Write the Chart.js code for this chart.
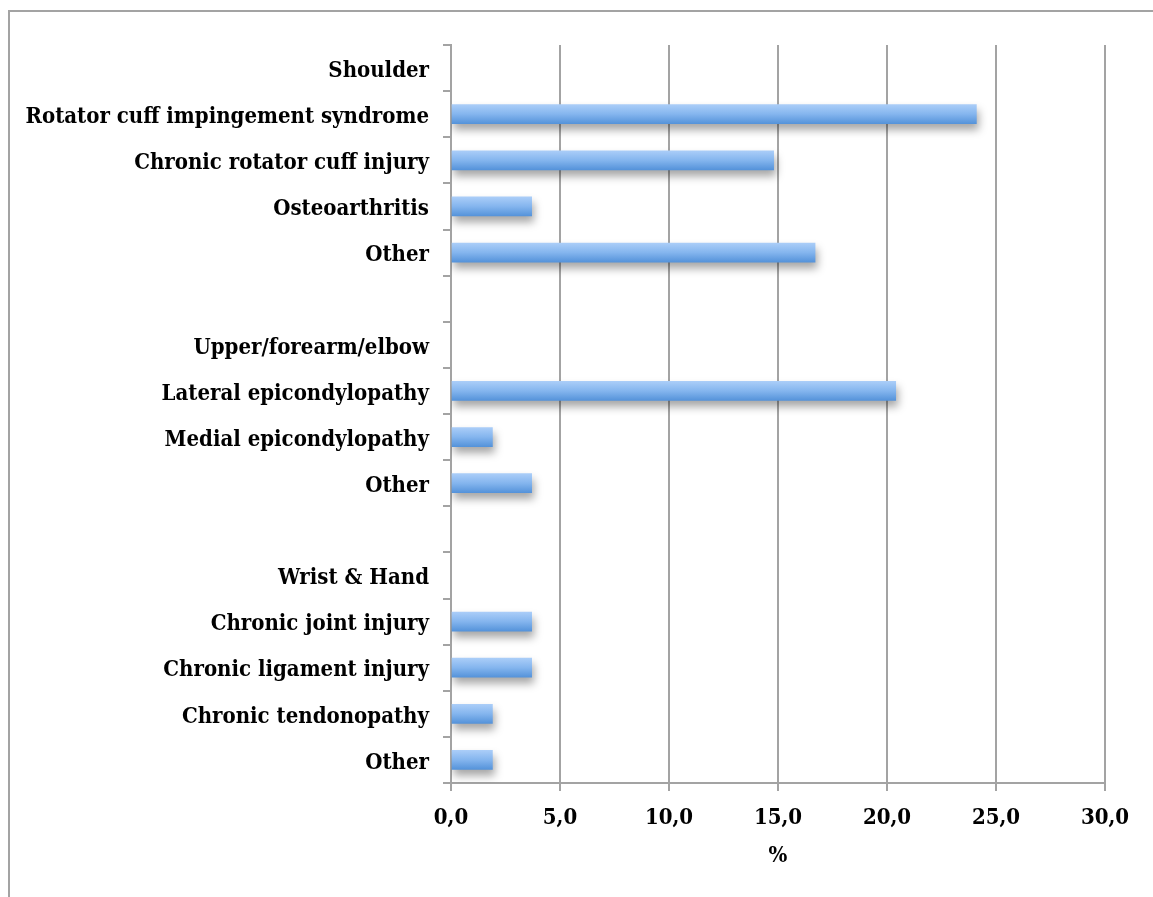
<!DOCTYPE html>
<html>
<head>
<meta charset="utf-8">
<script src="https://cdn.jsdelivr.net/npm/chart.js@4.4.1/dist/chart.umd.min.js"></script>
<style>
  html, body { margin: 0; padding: 0; background: #ffffff; }
  #wrap { position: relative; width: 1153px; height: 897px; overflow: hidden; }
  #frame {
    position: absolute; left: 8px; top: 10px; width: 1200px; height: 1000px;
    border-left: 2px solid #a3a3a3; border-top: 2px solid #a3a3a3;
  }
  canvas { position: absolute; left: 0; top: 0; }
</style>
</head>
<body>
<div id="wrap">
  <div id="frame"></div>
  <canvas id="chart" width="1153" height="897"></canvas>
</div>
<script>
// Injury categories, top to bottom (group headings and spacer rows have no bar)
const categories = [
  'Shoulder',
  'Rotator cuff impingement syndrome',
  'Chronic rotator cuff injury',
  'Osteoarthritis',
  'Other',
  '',
  'Upper/forearm/elbow',
  'Lateral epicondylopathy',
  'Medial epicondylopathy',
  'Other',
  '',
  'Wrist & Hand',
  'Chronic joint injury',
  'Chronic ligament injury',
  'Chronic tendonopathy',
  'Other'
];

// Share of injuries, %
const percentages = [
  null, 24.1, 14.8, 3.7, 16.7,
  null,
  null, 20.4, 1.9, 3.7,
  null,
  null, 3.7, 3.7, 1.9, 1.9
];

// Horizontal axis ticks
const xTicks = [0, 5, 10, 15, 20, 25, 30];

const LABEL_FONT = { family: '"DejaVu Serif Condensed", "DejaVu Serif", serif', weight: 'bold', size: 22 };
const AXIS_GREY = '#a3a3a3';
const BAR_THICKNESS = 19;

// Vertical blue gradient for each bar, built from the bar's own pixel extent
function barFill(context) {
  const chart = context.chart;
  const y = chart.scales.y;
  const centre = y ? y.getPixelForValue(context.dataIndex) : NaN;
  if (!Number.isFinite(centre)) return '#7aaeea';
  const half = BAR_THICKNESS / 2;
  const g = chart.ctx.createLinearGradient(0, centre - half, 0, centre + half);
  g.addColorStop(0, '#aacdf8');
  g.addColorStop(0.5, '#84b5ee');
  g.addColorStop(1, '#5593da');
  return g;
}

// Soft drop shadow under the bars
const barShadow = {
  id: 'barShadow',
  beforeDatasetsDraw(chart) {
    const ctx = chart.ctx;
    ctx.save();
    ctx.shadowColor = 'rgba(0,0,0,0.35)';
    ctx.shadowBlur = 8;
    ctx.shadowOffsetX = 2;
    ctx.shadowOffsetY = 6;
  },
  afterDatasetsDraw(chart) {
    chart.ctx.restore();
  }
};

new Chart(document.getElementById('chart'), {
  type: 'bar',
  data: {
    labels: categories,
    datasets: [{
      data: percentages,
      backgroundColor: barFill,
      borderWidth: 0,
      barThickness: BAR_THICKNESS
    }]
  },
  options: {
    indexAxis: 'y',
    responsive: false,
    animation: false,
    layout: { padding: { left: 0, top: 45, right: 48, bottom: 28 } },
    plugins: {
      legend: { display: false },
      tooltip: { enabled: false }
    },
    scales: {
      x: {
        min: 0,
        max: 30,
        afterBuildTicks(scale) {
          scale.ticks = xTicks.map(v => ({ value: v }));
        },
        ticks: {
          color: '#000',
          font: LABEL_FONT,
          padding: 14,
          callback: v => Number(v).toFixed(1).replace('.', ',')
        },
        grid: {
          color: AXIS_GREY,
          lineWidth: 2,
          tickLength: 8,
          drawOnChartArea: true
        },
        border: { color: AXIS_GREY, width: 2 },
        title: {
          display: true,
          text: '%',
          color: '#000',
          font: LABEL_FONT,
          padding: { top: 10, bottom: 0 }
        },
        afterFit(scale) { scale.height = 86; }
      },
      y: {
        ticks: {
          color: '#000',
          font: LABEL_FONT,
          padding: 14,
          labelOffset: 3,
          autoSkip: false
        },
        grid: {
          offset: true,
          drawOnChartArea: false,
          color: AXIS_GREY,
          lineWidth: 2,
          tickLength: 8
        },
        border: { color: AXIS_GREY, width: 2 },
        afterFit(scale) { scale.width = 451; }
      }
    }
  },
  plugins: [barShadow]
});
</script>
</body>
</html>
